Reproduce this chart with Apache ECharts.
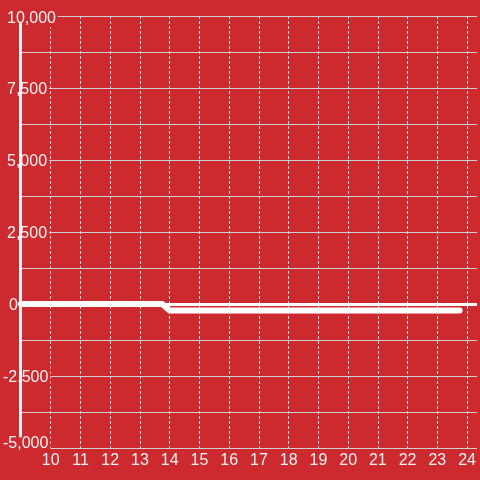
<!DOCTYPE html>
<html>
<head>
<meta charset="utf-8">
<script src="https://cdn.jsdelivr.net/npm/echarts@6/dist/echarts.min.js"></script>
<style>
html,body{margin:0;padding:0;background:#cd2a30;}
#c{width:480px;height:480px;}
</style>
</head>
<body>
<div id="c"></div>
<script>
// Data
var xValues = [9, 13.75, 14, 23.75];
var yValues = [0, 0, -230, -230];
var xTickMin = 9, xTickMax = 24;
var yTickMin = -5000, yTickMax = 10000, yTickStep = 2500;

var bg = '#cd2a30';
var chart = echarts.init(document.getElementById('c'), null, {renderer: 'canvas'});
var font = 'Liberation Sans, Arial, sans-serif';
function tok(extra) {
  var o = {color: '#f2f2f2', fontSize: 16, fontFamily: font, backgroundColor: bg};
  for (var k in extra) o[k] = extra[k];
  return o;
}
chart.setOption({
  animation: false,
  backgroundColor: bg,
  textStyle: {fontFamily: font},
  grid: [
    {left: 20, right: 0, top: 16, bottom: 32},
    {left: 20, right: 0, top: 24, bottom: 44}
  ],
  xAxis: [{
    type: 'value',
    min: xTickMin,
    max: xTickMin + 460 / 30,
    interval: 1,
    axisLine: {show: false, onZero: false},
    axisTick: {show: false},
    axisLabel: {
      color: '#f2f2f2', fontSize: 16, fontFamily: font, margin: 5,
      formatter: function (v) { return (Number.isInteger(v) && v > xTickMin && v <= xTickMax) ? String(v) : ''; }
    },
    splitLine: {show: true, showMinLine: false, showMaxLine: false, lineStyle: {color: '#dddddd', width: 1, type: [3, 2]}}
  }, {
    gridIndex: 1, type: 'value', show: false
  }],
  yAxis: [{
    type: 'value',
    min: yTickMin,
    max: yTickMax,
    interval: yTickStep,
    axisLine: {show: false},
    axisTick: {show: false},
    axisLabel: {
      margin: 18, align: 'left',
      formatter: function (v) {
        var s = v.toLocaleString('en-US');
        if (v === yTickMin) return '{b|' + s + '}';
        if (v < 0) return '{n|' + s + '}';
        if (v === 0) return '{z|' + s + '}';
        if (v === yTickMax) return '{t|' + s + '}';
        return '{p|' + s + '}';
      },
      rich: {
        n: tok({padding: [4, 2, 0, 0]}),
        b: tok({padding: [0, 2, 8, 0]}),
        z: tok({padding: [4, 2, 0, 6]}),
        p: tok({padding: [4, 2, 0, 4]}),
        t: tok({padding: [6, 2, 0, 4]})
      }
    },
    splitLine: {show: true, lineStyle: {color: '#d0d0d0', width: 1}},
    minorTick: {show: false, splitNumber: 2},
    minorSplitLine: {show: true, lineStyle: {color: '#d0d0d0', width: 1}}
  }, {
    gridIndex: 1, type: 'value', z: 10,
    axisLine: {show: true, lineStyle: {color: '#f4f4f4', width: 3}},
    axisTick: {show: false}, axisLabel: {show: false}, splitLine: {show: false}
  }],
  series: [{
    type: 'line',
    data: xValues.map(function (x, i) { return [x, yValues[i]]; }),
    showSymbol: false,
    z: 3,
    lineStyle: {color: '#ffffff', width: 6, cap: 'round', join: 'round'},
    markLine: {
      silent: true,
      symbol: 'none',
      label: {show: false},
      lineStyle: {color: '#ffffff', width: 3, type: 'solid'},
      data: [{yAxis: 0}]
    }
  }]
});
</script>
</body>
</html>
